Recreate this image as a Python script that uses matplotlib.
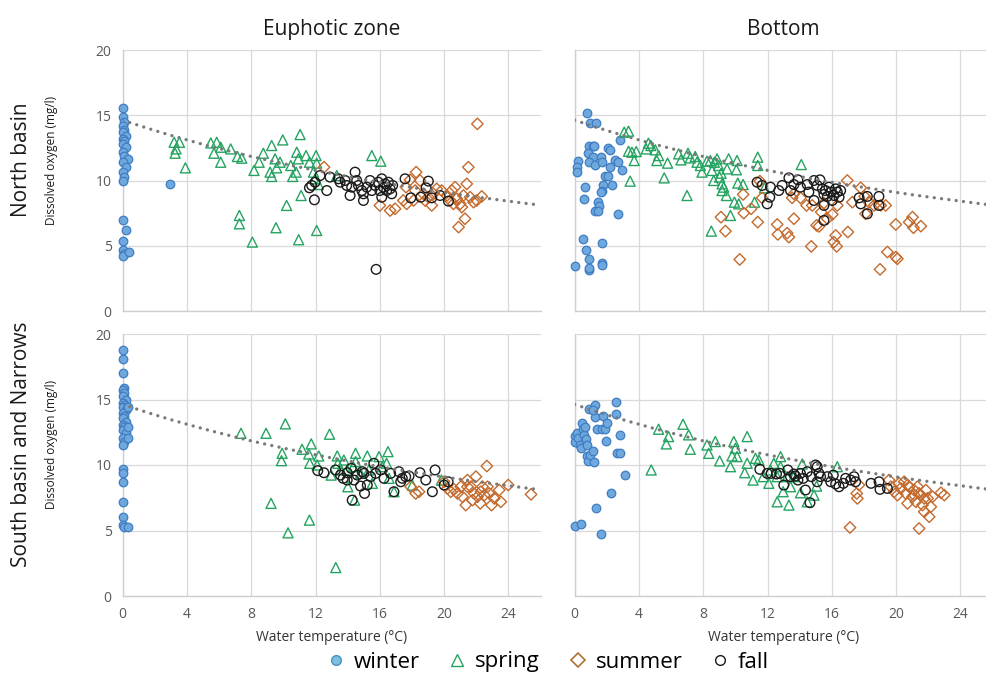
import matplotlib
matplotlib.use("Agg")
import matplotlib.pyplot as plt
from matplotlib.lines import Line2D

plt.rcParams['font.family'] = ['Open Sans', 'DejaVu Sans']

# ---------------- data ----------------
# oxygen saturation reference curve (mg/l) by temperature (degC)
sat_t = list(range(0, 27))
sat_do = [14.62, 14.22, 13.83, 13.46, 13.11, 12.77, 12.45, 12.14, 11.84, 11.56, 11.29,
          11.03, 10.78, 10.54, 10.31, 10.08, 9.87, 9.66, 9.47, 9.28, 9.09, 8.91, 8.74,
          8.58, 8.42, 8.26, 8.11]

# North basin - euphotic zone
nbe_win_t = [0, 0, 0.1, 0, 0.1, 0, 0.2, 0, 0.1, 0, 0.2, 0, 0.1, 0.3, 0, 0.2, 0, 0.1, 0,
             0, 0.2, 0, 0, 0.1, 0, 0.4, 2.95]
nbe_win_do = [15.56, 14.85, 14.46, 14.2, 13.88, 13.7, 13.44, 13.19, 13.0, 12.8, 12.55, 12.17,
              11.91, 11.66, 11.4, 11.07, 10.64, 10.3, 10.0, 6.94, 6.17, 5.36, 4.69, 4.39,
              4.21, 4.52, 9.74]
nbe_spr_t = [3.2, 3.53, 3.32, 3.26, 3.9, 5.48, 5.85, 5.68, 6.1, 6.1, 6.72, 7.14, 7.41, 7.26,
             7.26, 8.07, 8.17, 8.49, 8.75, 9.27, 9.17, 9.27, 9.48, 9.58, 9.79, 9.96, 9.54,
             10.2, 10.46, 10.58, 10.79, 11.04, 10.83, 10.93, 11.1, 10.95, 11.41, 11.62,
             12.03, 12.07, 11.87, 11.97, 12.07, 12.18, 13.32, 15.5, 16.06]
nbe_spr_do = [12.93, 12.93, 12.42, 12.09, 10.97, 12.88, 12.93, 12.09, 12.55, 11.4, 12.42,
              11.84, 11.71, 7.32, 6.68, 5.28, 10.77, 11.4, 12.09, 12.68, 10.64, 10.31, 11.66,
              10.97, 11.4, 13.11, 6.38, 8.09, 11.15, 10.31, 10.64, 13.52, 12.17, 11.66, 8.85,
              5.46, 11.91, 11.4, 11.91, 11.33, 10.64, 10.13, 6.17, 9.69, 10.38, 11.91, 11.48]
nbe_sum_t = [12.53, 16.64, 16.95, 16.0, 17.63, 17.88, 18.26, 18.5, 18.2, 18.71, 18.82, 19.23,
             19.54, 19.85, 20.17, 20.48, 20.68, 20.79, 21.0, 21.1, 21.2, 21.3, 20.9, 21.41,
             21.51, 21.62, 21.83, 22.03, 22.34, 22.07, 17.46, 19.02, 19.34, 20.38, 20.58,
             17.67, 18.1]
nbe_sum_do = [11.02, 7.7, 7.83, 8.09, 9.49, 10.05, 10.64, 10.0, 9.23, 8.98, 8.47, 8.09, 9.36,
              9.23, 8.85, 9.23, 9.49, 8.6, 8.21, 7.96, 8.85, 7.07, 6.43, 9.74, 11.02, 8.72,
              8.34, 8.47, 8.78, 14.34, 8.47, 8.72, 8.98, 8.47, 8.21, 8.21, 8.47]
nbe_fal_t = [11.62, 11.76, 11.97, 11.93, 12.7, 12.9, 13.42, 13.53, 13.94, 14.15, 14.46, 14.56,
             14.67, 14.88, 14.98, 15.19, 15.39, 15.5, 15.7, 15.91, 16.0, 16.12, 16.12, 16.22,
             16.33, 16.43, 16.53, 16.64, 16.74, 16.8, 15.77, 17.57, 17.93, 18.55, 18.88,
             19.02, 19.23, 19.75, 20.27, 12.28, 13.84, 14.25, 14.98]
nbe_fal_do = [9.44, 9.62, 9.87, 8.52, 9.23, 10.26, 10.13, 9.87, 9.62, 8.85, 10.64, 10.0, 9.62,
              9.23, 8.47, 9.49, 10.0, 9.23, 9.62, 9.87, 9.23, 10.13, 8.72, 9.49, 9.74, 9.23,
              9.87, 9.36, 8.98, 9.62, 3.19, 10.13, 8.67, 8.72, 9.44, 9.95, 8.67, 8.85, 8.42,
              10.38, 10.0, 9.49, 8.98]

# North basin - bottom
nbb_win_t = [0.79, 0.96, 1.33, 2.79, 0.91, 1.12, 1.2, 2.1, 2.2, 0.85, 1.16, 1.62, 0.91, 0.23,
             0.17, 0.17, 1.27, 1.68, 2.52, 2.72, 2.2, 2.93, 1.89, 2.1, 0.64, 1.75, 1.68, 1.62,
             2.31, 0.58, 1.48, 1.54, 1.27, 1.48, 2.72, 0.54, 1.68, 0.71, 0.91, 0.91, 0.91,
             1.68, 1.68, 0.02]
nbb_win_do = [15.18, 14.41, 14.41, 13.11, 12.63, 12.63, 12.63, 12.5, 12.3, 12.09, 11.79, 11.79,
              11.45, 11.53, 11.07, 10.64, 11.15, 11.4, 11.58, 11.4, 11.02, 10.82, 10.38, 10.38,
              9.49, 9.62, 9.23, 9.11, 9.67, 8.6, 8.39, 8.01, 7.7, 7.7, 7.45, 5.48, 5.2, 4.64,
              4.0, 3.16, 3.32, 3.67, 3.49, 3.42]
nbb_spr_t = [3.08, 3.35, 3.35, 3.56, 3.83, 3.7, 3.45, 4.45, 4.59, 4.74, 5.01, 5.22, 5.11, 5.78,
             5.57, 6.47, 6.61, 7.05, 6.99, 7.19, 7.5, 7.61, 7.82, 7.92, 8.23, 8.44, 8.54, 8.69,
             8.86, 8.96, 8.65, 9.02, 9.11, 9.17, 9.17, 9.27, 9.44, 9.58, 9.48, 10.06, 10.1,
             10.15, 10.48, 9.94, 10.21, 9.69, 8.5, 11.19, 11.39, 11.39, 14.1, 11.81]
nbb_spr_do = [13.7, 13.78, 12.24, 12.17, 12.22, 11.53, 9.95, 12.42, 12.86, 12.68, 12.35, 11.91,
              11.53, 11.33, 10.2, 12.04, 11.58, 12.09, 8.85, 11.73, 11.84, 11.4, 11.15, 10.64,
              11.48, 11.53, 10.77, 11.4, 11.66, 11.15, 10.0, 10.26, 10.56, 9.74, 9.23, 9.49,
              8.85, 11.66, 10.89, 10.82, 11.53, 9.8, 9.69, 8.34, 8.21, 7.32, 6.12, 8.34, 11.79,
              11.15, 11.22, 9.44]
nbb_sum_t = [9.1, 9.38, 10.27, 10.48, 10.52, 10.98, 11.39, 11.52, 11.66, 12.6, 12.64, 13.22,
             13.33, 13.64, 13.53, 14.05, 14.43, 14.72, 14.78, 15.05, 15.2, 15.34, 15.72, 16.03,
             16.24, 16.3, 16.13, 17.0, 16.96, 17.28, 17.8, 18.1, 18.04, 18.3, 18.63, 19.04,
             19.35, 19.0, 19.46, 19.98, 19.98, 20.81, 21.02, 21.08, 21.54, 20.08, 13.64,
             15.51, 16.34]
nbb_sum_do = [7.19, 6.12, 3.95, 8.93, 7.5, 7.83, 6.81, 9.95, 8.67, 6.63, 5.87, 5.97, 5.66,
              7.07, 8.67, 8.67, 8.09, 4.95, 8.09, 6.56, 6.48, 7.58, 7.07, 7.4, 5.79, 4.95, 5.28,
              6.05, 10.0, 8.34, 9.44, 7.45, 8.78, 8.34, 8.09, 8.09, 8.09, 3.19, 4.52, 4.13,
              6.63, 6.81, 7.19, 6.38, 6.5, 4.0, 8.98, 8.27, 8.09]
nbb_fal_t = [11.35, 11.66, 12.14, 11.98, 12.18, 12.7, 12.91, 13.33, 13.43, 13.64, 13.89, 14.05,
             14.47, 14.57, 14.89, 15.09, 15.26, 15.41, 15.51, 15.61, 15.72, 15.82, 15.93,
             16.03, 16.13, 16.24, 16.34, 16.45, 16.55, 15.51, 15.51, 17.7, 17.8, 18.21, 18.21,
             18.93, 18.93, 14.89]
nbb_fal_do = [9.87, 9.62, 8.72, 8.21, 9.49, 9.23, 9.62, 10.2, 9.23, 9.69, 10.05, 9.49, 9.69,
              9.11, 10.0, 9.62, 10.05, 9.36, 8.93, 9.23, 8.78, 9.49, 9.11, 8.47, 8.85, 9.36,
              9.11, 8.72, 9.23, 6.94, 8.09, 8.67, 8.21, 8.78, 7.45, 8.78, 8.09, 8.47]

# South basin and Narrows - euphotic zone
sbe_win_t = [0, 0, 0, 0.1, 0, 0.1, 0, 0.2, 0, 0.1, 0, 0.2, 0, 0.1, 0, 0.2, 0, 0.1, 0, 0.2,
             0, 0.1, 0, 0, 0, 0, 0, 0, 0, 0.1, 0.3, 0.3, 0.3, 0.3]
sbe_win_do = [18.75, 18.11, 17.02, 15.87, 15.74, 15.48, 15.23, 14.97, 14.77, 14.59, 14.41,
              14.21, 13.95, 13.75, 13.57, 13.32, 13.06, 12.93, 12.68, 12.42, 12.04, 11.79,
              11.53, 9.67, 9.41, 8.72, 7.19, 6.05, 5.41, 5.23, 14.41, 12.93, 12.04, 5.23]
sbe_spr_t = [7.36, 8.92, 10.12, 9.92, 9.88, 9.23, 10.29, 11.16, 11.58, 11.73, 11.64, 12.2,
             12.1, 11.62, 12.87, 13.26, 12.97, 13.35, 13.39, 13.76, 13.97, 14.01, 14.35, 14.49,
             14.49, 14.43, 14.8, 15.22, 15.32, 15.53, 15.95, 16.15, 16.51, 16.42, 16.57,
             16.88, 18.02, 19.83, 13.55]
sbe_spr_do = [12.42, 12.42, 13.14, 10.89, 10.33, 7.07, 4.82, 11.2, 10.84, 11.61, 10.13, 10.69,
              10.0, 5.79, 12.35, 2.17, 9.23, 10.69, 10.13, 10.38, 9.62, 8.34, 9.87, 10.89,
              10.26, 7.32, 9.36, 10.69, 9.62, 8.6, 10.64, 9.87, 11.02, 10.13, 8.98, 7.96, 8.47,
              8.85, 9.62]
sbe_sum_t = [17.92, 18.23, 18.44, 20.0, 20.21, 20.42, 20.62, 20.83, 21.04, 21.14, 21.35, 21.45,
             21.66, 21.87, 21.98, 22.08, 22.25, 22.29, 22.5, 22.66, 22.81, 22.95, 23.12, 23.43,
             23.53, 23.99, 25.41, 22.39, 22.7, 21.45, 21.77]
sbe_sum_do = [8.34, 7.83, 7.96, 8.72, 8.21, 7.96, 8.14, 7.83, 8.34, 7.58, 6.94, 8.85, 8.34,
              7.83, 9.11, 7.58, 7.07, 7.96, 7.7, 9.92, 7.83, 6.94, 7.45, 8.09, 7.19, 8.47,
              7.76, 8.34, 8.34, 8.34, 7.32]
sbe_fal_t = [12.14, 12.52, 13.24, 13.55, 13.72, 13.97, 14.22, 14.28, 14.39, 14.6, 14.8, 14.91,
             15.05, 15.22, 15.43, 15.63, 15.74, 16.05, 16.26, 16.67, 16.88, 17.19, 17.3, 17.4,
             17.61, 17.82, 18.5, 18.86, 19.27, 19.44, 20.0, 20.25, 13.97, 15.01]
sbe_fal_do = [9.57, 9.41, 9.62, 9.23, 8.98, 9.41, 9.74, 7.32, 8.85, 9.23, 8.39, 9.49, 7.83,
              8.47, 9.11, 10.13, 9.36, 9.62, 8.98, 9.36, 7.96, 9.49, 8.72, 8.98, 9.11, 9.16,
              9.41, 8.85, 7.96, 9.62, 8.47, 8.72, 8.85, 9.36]

# South basin and Narrows - bottom
sbb_win_t = [0.0, 0.37, 1.64, 1.33, 2.27, 3.14, 0.0, 0.02, 0.12, 0.23, 0.33, 0.37, 0.44, 0.5,
             0.58, 0.64, 0.71, 0.75, 0.75, 0.85, 0.91, 0.96, 1.16, 1.2, 1.27, 1.27, 1.37, 1.68,
             1.79, 1.89, 2.0, 1.93, 2.58, 2.58, 2.79, 2.66, 2.79, 1.16]
sbb_win_do = [5.33, 5.46, 4.77, 6.73, 7.83, 9.23, 12.22, 11.79, 12.47, 12.04, 11.53, 11.28,
              13.19, 12.73, 12.3, 12.88, 11.96, 11.53, 10.69, 10.31, 14.26, 10.77, 11.07, 10.26,
              14.59, 13.65, 12.73, 12.73, 13.75, 12.73, 13.19, 11.84, 14.8, 13.88, 12.3, 10.94,
              10.89, 14.21]
sbb_spr_t = [4.76, 5.22, 5.84, 5.7, 6.74, 7.09, 7.19, 8.23, 8.34, 8.75, 9.02, 9.69, 9.79, 9.9,
             10.0, 10.1, 10.58, 10.73, 10.73, 11.1, 11.25, 11.46, 11.73, 12.08, 12.18, 12.6,
             12.81, 12.81, 12.97, 13.33, 13.43, 13.64, 14.05, 14.16, 14.47, 14.89, 15.05,
             16.34, 12.6, 13.22, 12.39]
sbb_spr_do = [9.62, 12.73, 12.17, 11.61, 13.11, 12.3, 11.2, 11.53, 10.89, 11.79, 10.31, 9.87,
              10.69, 11.79, 11.28, 10.64, 9.41, 12.17, 10.13, 8.85, 10.51, 10.38, 9.11, 8.6,
              9.62, 7.19, 10.64, 9.87, 7.96, 6.94, 8.34, 9.11, 7.88, 10.08, 7.19, 7.7, 8.39,
              9.87, 9.11, 9.11, 10.13]
sbb_sum_t = [17.13, 17.55, 17.59, 17.69, 21.43, 19.56, 19.67, 19.88, 20.08, 20.19, 20.29, 20.5,
             20.6, 20.71, 20.81, 21.02, 21.12, 21.23, 21.33, 21.54, 21.64, 21.75, 21.85, 21.96,
             22.06, 22.16, 22.27, 22.79, 23.0, 20.71, 21.12, 21.43, 21.75]
sbb_sum_do = [5.23, 7.83, 7.45, 8.47, 5.15, 8.85, 8.34, 7.96, 7.7, 8.6, 8.21, 8.72, 7.83, 7.07,
              8.34, 7.58, 8.09, 7.19, 8.34, 7.7, 6.94, 6.43, 8.09, 7.45, 6.05, 6.81, 7.58, 7.88,
              7.7, 8.47, 7.7, 7.83, 7.45]
sbb_fal_t = [11.52, 11.98, 12.22, 12.56, 12.77, 13.01, 13.26, 13.43, 13.64, 13.74, 13.89, 14.05,
             14.22, 14.36, 14.47, 14.64, 14.72, 14.99, 15.09, 15.2, 15.3, 15.72, 15.93, 16.09,
             16.24, 16.45, 16.72, 16.86, 17.17, 17.38, 17.48, 18.44, 18.94, 19.0, 19.46, 15.09]
sbb_fal_do = [9.67, 9.36, 9.36, 9.31, 9.36, 8.47, 9.62, 9.11, 9.31, 9.16, 8.85, 9.36, 8.98,
              8.09, 9.49, 7.12, 9.11, 10.0, 8.72, 9.36, 9.11, 9.11, 8.72, 9.23, 8.55, 8.34,
              8.6, 8.98, 8.85, 9.11, 8.72, 8.6, 8.72, 8.14, 8.21, 9.87]

col_titles = ["Euphotic zone", "Bottom"]
row_titles = ["North basin", "South basin and Narrows"]
season_names = ["winter", "spring", "summer", "fall"]
x_ticks = [0, 4, 8, 12, 16, 20, 24]
y_ticks = [0, 5, 10, 15, 20]

panels = [
    [(nbe_win_t, nbe_win_do), (nbe_spr_t, nbe_spr_do), (nbe_sum_t, nbe_sum_do), (nbe_fal_t, nbe_fal_do)],
    [(nbb_win_t, nbb_win_do), (nbb_spr_t, nbb_spr_do), (nbb_sum_t, nbb_sum_do), (nbb_fal_t, nbb_fal_do)],
    [(sbe_win_t, sbe_win_do), (sbe_spr_t, sbe_spr_do), (sbe_sum_t, sbe_sum_do), (sbe_fal_t, sbe_fal_do)],
    [(sbb_win_t, sbb_win_do), (sbb_spr_t, sbb_spr_do), (sbb_sum_t, sbb_sum_do), (sbb_fal_t, sbb_fal_do)],
]

# ---------------- styles ----------------
styles = [
    dict(marker='o', s=38, facecolor='#6fa8dc', edgecolor='#3f7dc4', linewidths=0.9),
    dict(marker='^', s=52, facecolor='none', edgecolor='#25a461', linewidths=1.0),
    dict(marker='D', s=34, facecolor='none', edgecolor='#c46a2c', linewidths=1.0),
    dict(marker='o', s=48, facecolor='none', edgecolor='#1a1a1a', linewidths=1.0),
]
grid_c = '#d9d9d9'
tick_c = '#595959'

W, H = 986, 685
fig = plt.figure(figsize=(W / 100, H / 100), dpi=100)

px_per_deg = 16.07
col_x0 = [122.7, 574.7]
row_y = [(50, 311), (334, 596)]  # (top, bottom) pixel positions

axes = []
for r in range(2):
    for c in range(2):
        left = col_x0[c] / W
        width = 26 * px_per_deg / W
        top, bot = row_y[r]
        ax = fig.add_axes([left, 1 - bot / H, width, (bot - top) / H])
        axes.append(ax)
        ax.set_xlim(0, 26)
        ax.set_ylim(0, 20)
        ax.set_xticks(x_ticks)
        ax.set_yticks(y_ticks)
        ax.grid(True, color=grid_c, lw=0.9)
        ax.set_axisbelow(True)
        for s in ['top', 'right']:
            ax.spines[s].set_visible(False)
        for s in ['left', 'bottom']:
            ax.spines[s].set_color('#cfcfcf')
            ax.spines[s].set_linewidth(1.0)
        ax.tick_params(length=0, colors=tick_c, labelsize=10, pad=8)
        if c == 1:
            ax.tick_params(labelleft=False)
        if r == 0:
            ax.tick_params(labelbottom=False)
        else:
            ax.set_xlabel("Water temperature (°C)", fontsize=10, color='#333333', labelpad=6)
        if r == 0:
            ax.set_title(col_titles[c], fontsize=15, color='#1a1a1a', pad=11)
        data = panels[r * 2 + c]
        for (xs, ys), st in zip(data, styles):
            ax.scatter(xs, ys, clip_on=False, zorder=3, **st)
        ax.plot(sat_t, sat_do, color='#7a7a7a', lw=2.4,
                linestyle=(0, (0.01, 2.2)), dash_capstyle='round', zorder=4)

# row labels
for r in range(2):
    top, bot = row_y[r]
    yc = 1 - ((top + bot) / 2) / H
    fig.text(22 / W, yc + 0.03, row_titles[r], rotation=90, ha='center', va='center',
             fontsize=15, color='#1a1a1a')
    fig.text(52 / W, yc + 0.03, "Dissolved oxygen (mg/l)", rotation=90, ha='center',
             va='center', fontsize=8.5, color='#1a1a1a')

# legend
handles = [Line2D([], [], linestyle='none', marker='o', markersize=7, markerfacecolor='#7cc0e0',
                  markeredgecolor='#4a90c0'),
           Line2D([], [], linestyle='none', marker='^', markersize=8, markerfacecolor='none',
                  markeredgecolor='#25a461', markeredgewidth=1.0),
           Line2D([], [], linestyle='none', marker='D', markersize=7, markerfacecolor='none',
                  markeredgecolor='#b0703a', markeredgewidth=1.2),
           Line2D([], [], linestyle='none', marker='o', markersize=7, markerfacecolor='none',
                  markeredgecolor='#1a1a1a', markeredgewidth=1.0)]
fig.legend(handles, season_names, loc='center', bbox_to_anchor=(548 / W, 1 - 662 / H),
           ncol=4, frameon=False, fontsize=16, handlelength=0.8, handletextpad=0.4,
           columnspacing=1.3, borderpad=0)

fig.savefig("out.png", dpi=100)
